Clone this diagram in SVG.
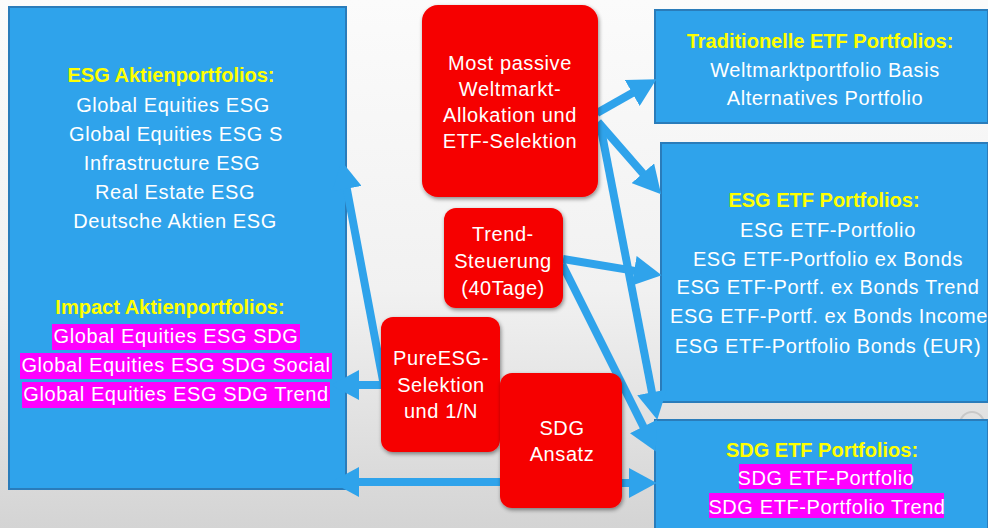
<svg xmlns="http://www.w3.org/2000/svg" width="988" height="528" viewBox="0 0 988 528">
<defs>
<linearGradient id="bg" x1="0" y1="0" x2="0" y2="1">
<stop offset="0" stop-color="#fbfbfb"/>
<stop offset="0.55" stop-color="#f1f1f1"/>
<stop offset="1" stop-color="#d4d4d4"/>
</linearGradient>
<filter id="sh" x="-10%" y="-10%" width="125%" height="125%">
<feGaussianBlur in="SourceAlpha" stdDeviation="2"/>
<feOffset dx="1" dy="2" result="b"/>
<feComponentTransfer><feFuncA type="linear" slope="0.45"/></feComponentTransfer>
<feMerge><feMergeNode/><feMergeNode in="SourceGraphic"/></feMerge>
</filter>
<marker id="ah" markerUnits="userSpaceOnUse" markerWidth="28" markerHeight="30" viewBox="0 0 26 28" refX="2" refY="14" orient="auto">
<path d="M0,0 L26,14 L0,28 z" fill="#2fa3eb"/>
</marker>
</defs>
<style>
.box{fill:#2fa3eb;stroke:#2a7cba;stroke-width:2}
.red{fill:#f60303;filter:url(#sh)}
.t{font-family:"Liberation Sans",Arial,sans-serif;font-size:20px;fill:#ffffff;text-anchor:middle;letter-spacing:0.6px}
.h{font-family:"Liberation Sans",Arial,sans-serif;font-size:20px;font-weight:bold;fill:#ffff00;text-anchor:middle}
.hl{fill:#ff00ff}
.c{stroke:#2fa3eb;stroke-width:8;fill:none;marker-end:url(#ah)}
</style>
<rect x="0" y="0" width="988" height="528" fill="url(#bg)"/>
<circle cx="972" cy="424" r="12" fill="none" stroke="#c8c8c8" stroke-width="2"/>

<g id="esg-aktien">
<rect class="box" x="9" y="7" width="337" height="482"/>
<text class="h" x="171" y="82">ESG Aktienportfolios:</text>
<text class="t" x="173" y="112">Global Equities ESG</text>
<text class="t" x="176" y="141">Global Equities ESG S</text>
<text class="t" x="172" y="170">Infrastructure ESG</text>
<text class="t" x="175" y="199">Real Estate ESG</text>
<text class="t" x="175" y="228">Deutsche Aktien ESG</text>
<text class="h" x="170" y="314">Impact Aktienportfolios:</text>
<rect class="hl" x="52" y="324" width="248" height="26"/>
<text class="t" x="176" y="343">Global Equities ESG SDG</text>
<rect class="hl" x="20" y="353" width="312" height="26"/>
<text class="t" x="176" y="372">Global Equities ESG SDG Social</text>
<rect class="hl" x="22" y="382" width="308" height="26"/>
<text class="t" x="176" y="401">Global Equities ESG SDG Trend</text>
</g>

<g id="traditionelle">
<rect class="box" x="655" y="10" width="333" height="113"/>
<text class="h" x="820" y="48">Traditionelle ETF Portfolios:</text>
<text class="t" x="825" y="77">Weltmarktportfolio Basis</text>
<text class="t" x="825" y="105">Alternatives Portfolio</text>
</g>

<g id="esg-etf">
<rect class="box" x="661" y="143" width="327" height="259"/>
<text class="h" x="824" y="207">ESG ETF Portfolios:</text>
<text class="t" x="828" y="237">ESG ETF-Portfolio</text>
<text class="t" x="828" y="266">ESG ETF-Portfolio ex Bonds</text>
<text class="t" x="828" y="294">ESG ETF-Portf. ex Bonds Trend</text>
<text class="t" x="829" y="323">ESG ETF-Portf. ex Bonds Income</text>
<text class="t" x="828" y="353">ESG ETF-Portfolio Bonds (EUR)</text>
</g>

<g id="sdg-etf">
<rect class="box" x="655" y="420" width="333" height="112"/>
<text class="h" x="822" y="457">SDG ETF Portfolios:</text>
<rect class="hl" x="739" y="464" width="173" height="25"/>
<text class="t" x="826" y="485">SDG ETF-Portfolio</text>
<rect class="hl" x="709" y="493" width="235" height="25"/>
<text class="t" x="827" y="514">SDG ETF-Portfolio Trend</text>
</g>

<g id="connectors">
<line class="c" x1="597" y1="113" x2="634.1" y2="91.9"/>
<line class="c" x1="598" y1="122" x2="644.2" y2="174.9"/>
<line class="c" x1="600" y1="124" x2="652.4" y2="394.4"/>
<line class="c" x1="563" y1="259" x2="636.3" y2="271.1"/>
<line class="c" x1="562" y1="264" x2="644.3" y2="428.5"/>
<line class="c" x1="615" y1="483" x2="631" y2="483"/>
<line class="c" x1="503" y1="482" x2="357" y2="482"/>
<line class="c" x1="386" y1="385" x2="357" y2="385"/>
<line class="c" x1="384" y1="386" x2="346.4" y2="186.6"/>
</g>

<g id="most-passive">
<rect class="red" x="422" y="5" width="176" height="192" rx="16"/>
<text class="t" x="510" y="70">Most passive</text>
<text class="t" x="510" y="96">Weltmarkt-</text>
<text class="t" x="510" y="122">Allokation und</text>
<text class="t" x="510" y="148">ETF-Selektion</text>
</g>

<g id="trend">
<rect class="red" x="444" y="208" width="119" height="100" rx="12"/>
<text class="t" x="503" y="241">Trend-</text>
<text class="t" x="503" y="268">Steuerung</text>
<text class="t" x="503" y="295">(40Tage)</text>
</g>

<g id="pureesg">
<rect class="red" x="381" y="317" width="119" height="135" rx="12"/>
<text class="t" x="441" y="365">PureESG-</text>
<text class="t" x="441" y="392">Selektion</text>
<text class="t" x="441" y="418">und 1/N</text>
</g>

<g id="sdg-ansatz">
<rect class="red" x="500" y="373" width="122" height="135" rx="12"/>
<text class="t" x="562" y="435">SDG</text>
<text class="t" x="562" y="461">Ansatz</text>
</g>
</svg>
